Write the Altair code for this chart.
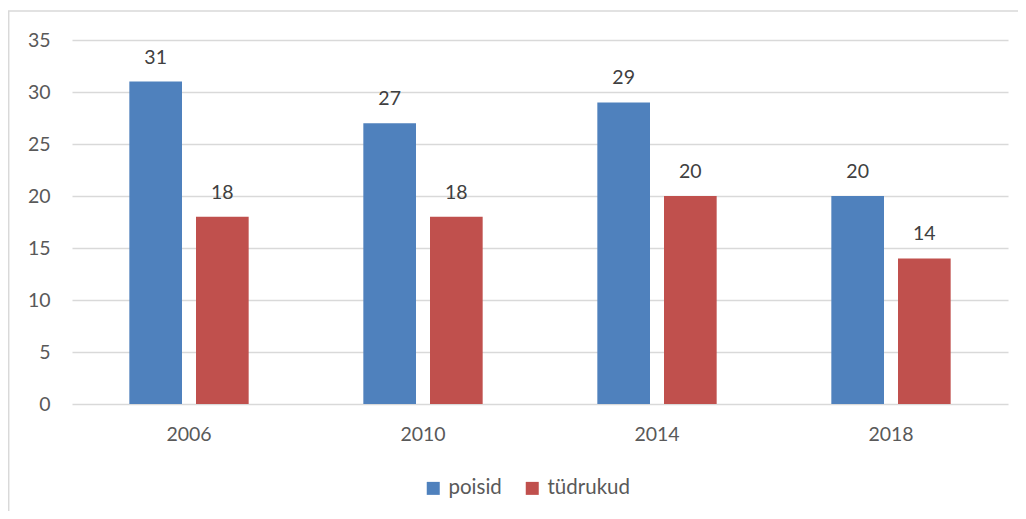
import altair as alt
import pandas as pd

years = ["2006", "2010", "2014", "2018"]
poisid = [31, 27, 29, 20]
tudrukud = [18, 18, 20, 14]
series = ["poisid", "tüdrukud"]
colors = ["#4F81BD", "#C0504D"]
y_ticks = [0, 5, 10, 15, 20, 25, 30, 35]

rows = []
for i, yr in enumerate(years):
    rows.append({"aasta": yr, "sugu": series[0], "väärtus": poisid[i]})
    rows.append({"aasta": yr, "sugu": series[1], "väärtus": tudrukud[i]})
df = pd.DataFrame(rows)

W, H = 936, 364
FONT = "Lato"
GRID = "#D9D9D9"
FS = 19.5

x = alt.X(
    "aasta:N", sort=years,
    scale=alt.Scale(paddingInner=0.49, paddingOuter=0.245),
    axis=alt.Axis(title=None, labelAngle=0, ticks=False, tickSize=0, domain=False,
                  labelPadding=21, labelFontSize=FS, labelColor="#595959",
                  labelFont=FONT, grid=False),
)
xo = alt.XOffset("sugu:N", sort=series, scale=alt.Scale(paddingInner=0.21, paddingOuter=0))
y = alt.Y(
    "väärtus:Q",
    scale=alt.Scale(domain=[0, 35], nice=False),
    axis=alt.Axis(title=None, values=y_ticks, ticks=False, tickSize=0, domain=False,
                  grid=True, gridColor=GRID, gridWidth=1.3, labelPadding=22,
                  labelFontSize=FS, labelColor="#595959", labelFont=FONT),
)
color = alt.Color(
    "sugu:N", sort=series,
    scale=alt.Scale(domain=series, range=colors),
    legend=alt.Legend(title=None, orient="none", direction="horizontal",
                      legendX=351, legendY=438, symbolType="square", symbolSize=169,
                      symbolStrokeWidth=0, labelFontSize=20.5, labelFont=FONT,
                      labelColor="#595959", columnPadding=20, labelOffset=5),
)

base = alt.Chart(df)
bars = base.mark_bar().encode(x=x, xOffset=xo, y=y, color=color)
labels = base.mark_text(dy=-18, baseline="alphabetic", fontSize=FS, color="#404040",
                        font=FONT).encode(x=x, xOffset=xo, y=y, text="väärtus:Q")

frame_df = pd.DataFrame({"k": [0]})
left_border = alt.Chart(frame_df).mark_rule(color=GRID, strokeWidth=1.5).encode(
    x=alt.value(-63.3), y=alt.value(-29), y2=alt.value(480))
top_border = alt.Chart(frame_df).mark_rule(color=GRID, strokeWidth=1.5).encode(
    x=alt.value(-64), x2=alt.value(960), y=alt.value(-29))

chart = alt.layer(bars, labels, left_border, top_border).properties(
    width=W, height=H,
    autosize=alt.AutoSizeParams(type="none"),
    padding={"left": 64, "top": 32, "right": 10, "bottom": 107},
).configure_view(stroke=None)

chart.save("out.html", embed_options={"renderer": "svg", "actions": False})
